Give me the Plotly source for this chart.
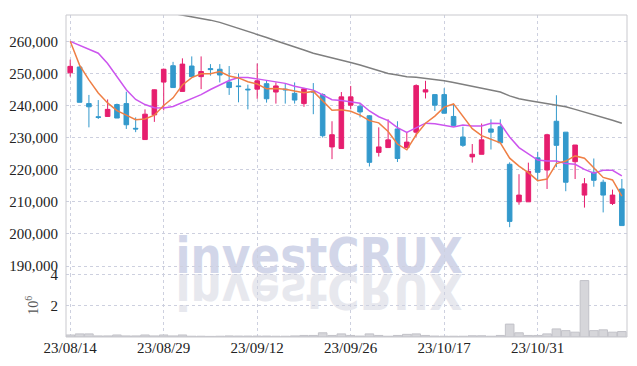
import base64
import plotly.graph_objects as go
from plotly.subplots import make_subplots

dates = ["23/08/14", "23/08/16", "23/08/17", "23/08/18", "23/08/21", "23/08/22", "23/08/23", "23/08/24",
         "23/08/25", "23/08/28", "23/08/29", "23/08/30", "23/08/31", "23/09/01", "23/09/04", "23/09/05",
         "23/09/06", "23/09/07", "23/09/08", "23/09/11", "23/09/12", "23/09/13", "23/09/14", "23/09/15",
         "23/09/18", "23/09/19", "23/09/20", "23/09/21", "23/09/22", "23/09/25", "23/09/26", "23/09/27",
         "23/10/04", "23/10/05", "23/10/06", "23/10/10", "23/10/11", "23/10/12", "23/10/13", "23/10/16",
         "23/10/17", "23/10/18", "23/10/19", "23/10/20", "23/10/23", "23/10/24", "23/10/25", "23/10/26",
         "23/10/27", "23/10/30", "23/10/31", "23/11/01", "23/11/02", "23/11/03", "23/11/06", "23/11/07",
         "23/11/08", "23/11/09", "23/11/10", "23/11/13"]

opens = [250200, 252000, 240600, 236500, 236600, 240300, 240600, 232900, 229400, 237100,
         247300, 252400, 244400, 252300, 249000, 251500, 251300, 247300, 246100, 245100,
         245100, 246800, 244200, 245100, 243800, 240600, 244400, 243400, 227100, 226600,
         240100, 239800, 236800, 225400, 226900, 232700, 226900, 231700, 244200, 243400,
         243400, 236600, 230200, 224000, 224800, 232700, 233400, 221700, 210000, 210000,
         223700, 219900, 235100, 231700, 222500, 212100, 219200, 216100, 209500, 214000]
highs = [254300, 252300, 243300, 241700, 241900, 240600, 244300, 236300, 238800, 245000,
         251500, 253600, 254700, 255300, 255300, 252900, 252900, 252300, 250000, 246500,
         253100, 247800, 247200, 246700, 247200, 245500, 247000, 243800, 235100, 244200,
         246100, 240500, 237000, 233200, 235700, 235100, 231700, 246600, 247700, 243400,
         245400, 240300, 233400, 228000, 234400, 235700, 235700, 222300, 218600, 222200,
         225600, 231200, 243200, 231700, 227700, 217400, 223500, 216900, 213800, 217100]
lows = [249000, 241000, 233200, 235800, 236600, 236100, 232700, 231700, 229400, 234900,
        238500, 245600, 244400, 249000, 245100, 249300, 247200, 243300, 241000, 238800,
        242100, 240900, 240600, 240600, 240600, 239600, 237300, 230000, 223300, 226600,
        238800, 236300, 221000, 224100, 226900, 222400, 226900, 230300, 242200, 238300,
        237600, 233500, 227100, 222200, 224800, 226300, 228400, 202100, 209100, 210000,
        216400, 214000, 220800, 213300, 217100, 208200, 214700, 206700, 209000, 202600]
closes = [252200, 241000, 239600, 236300, 238800, 236100, 234000, 232700, 237300, 244900,
          251300, 245600, 252900, 249000, 250600, 251200, 249500, 245600, 245900, 244900,
          247700, 242100, 246100, 244900, 241700, 245200, 244200, 230600, 230900, 242700,
          242700, 238000, 222300, 227100, 229300, 223500, 228600, 246200, 244900, 240100,
          237600, 233800, 227600, 224800, 229300, 231700, 228400, 203900, 212100, 219500,
          219200, 230900, 227600, 216100, 227700, 215600, 216700, 212100, 212100, 202600]

ma5 = [260000, 252600, 248000, 243900, 240800, 238400, 237000, 235600, 235800, 237000,
       240000, 242400, 246400, 248700, 249900, 249900, 250600, 249200, 248600, 247400,
       246700, 245200, 245300, 245100, 244500, 244000, 244400, 241300, 238500, 238700,
       238200, 237000, 235300, 234600, 231900, 228000, 226200, 230900, 234500, 236700,
       239500, 240500, 236800, 232800, 230600, 229400, 228400, 223600, 221100, 219100,
       216600, 217100, 221900, 222700, 224300, 223600, 220700, 217600, 216800, 211800]
ma10 = [260000, 258800, 257500, 256300, 253100, 249000, 244900, 241900, 240300, 239300,
        239200, 239700, 241000, 242300, 243400, 245000, 246500, 247800, 248700, 248700,
        248300, 247900, 247300, 246900, 246000, 245400, 244800, 243300, 241800, 241600,
        241100, 240700, 238300, 236500, 235300, 233100, 231600, 233100, 234500, 234300,
        233800, 233300, 233900, 233600, 233600, 234500, 234400, 230200, 226900, 224900,
        223000, 222700, 222700, 221900, 221700, 220100, 218900, 219800, 219800, 218100]
ma_long = [274500, 274000, 273500, 273000, 272500, 272000, 271500, 271000, 270400, 269800,
           269200, 268700, 268200, 267700, 267200, 266600, 265900, 265000, 264100, 263100,
           262200, 261200, 260200, 259300, 258300, 257300, 256300, 255600, 254800, 254300,
           253400, 252600, 251800, 250900, 250000, 249500, 249000, 248800, 248500, 248100,
           247700, 247200, 246600, 246000, 245400, 244800, 244200, 243000, 242100, 241600,
           241100, 240700, 240300, 239600, 238800, 238000, 237100, 236200, 235400, 234500]

volume_mil = [0.13, 0.20, 0.20, 0.07, 0.07, 0.13, 0.07, 0.07, 0.13, 0.07,
              0.13, 0.07, 0.13, 0.05, 0.05, 0.04, 0.05, 0.07, 0.06, 0.06,
              0.06, 0.06, 0.05, 0.05, 0.07, 0.10, 0.10, 0.27, 0.10, 0.20,
              0.10, 0.06, 0.20, 0.10, 0.05, 0.10, 0.17, 0.20, 0.10, 0.06,
              0.05, 0.05, 0.05, 0.08, 0.08, 0.05, 0.10, 0.83, 0.27, 0.10,
              0.10, 0.20, 0.52, 0.41, 0.31, 3.63, 0.41, 0.46, 0.31, 0.35]

price_ticks = [190000, 200000, 210000, 220000, 230000, 240000, 250000, 260000]
volume_ticks = [2, 4]
x_ticks = dates[::10]

RED = "#e61e6e"
BLUE = "#3399cc"
GRID = "#cdd0df"
TXT = "#222222"
FONT = "Liberation Sans Narrow"

fig = make_subplots(rows=2, cols=1, shared_xaxes=True, vertical_spacing=0)

fig.add_trace(go.Candlestick(
    x=dates, open=opens, high=highs, low=lows, close=closes,
    increasing=dict(line=dict(color=RED, width=1), fillcolor=RED),
    decreasing=dict(line=dict(color=BLUE, width=1), fillcolor=BLUE),
    whiskerwidth=0, showlegend=False, hoverinfo="skip"), row=1, col=1)

for series, color in [(ma_long, "#7f7f7f"), (ma10, "#cc55ee"), (ma5, "#ef7f45")]:
    fig.add_trace(go.Scatter(x=dates, y=series, mode="lines",
                             line=dict(color=color, width=1.5),
                             showlegend=False, hoverinfo="skip"), row=1, col=1)

fig.add_trace(go.Bar(x=dates, y=volume_mil,
                     marker=dict(color="#d6d6da", line=dict(color="#c2c2c8", width=1)),
                     showlegend=False, hoverinfo="skip"), row=2, col=1)

vol_frac = 0.197
xr = [-0.45, 59.55]
axis_common = dict(type="category", range=xr, showgrid=True, gridcolor=GRID, griddash="dot",
                   gridwidth=1, tickmode="array", tickvals=x_ticks, zeroline=False,
                   showline=False, ticks="")
fig.update_layout(
    width=637, height=366,
    margin=dict(l=63, r=10, t=9, b=29),
    paper_bgcolor="white", plot_bgcolor="white",
    bargap=0.08,
    font=dict(family=FONT, size=15, color=TXT),
    xaxis=dict(**axis_common, showticklabels=False, rangeslider=dict(visible=False)),
    xaxis2=dict(**axis_common, ticktext=x_ticks, tickfont=dict(family=FONT, size=15, color=TXT),
                rangeslider=dict(visible=False)),
    yaxis=dict(domain=[vol_frac, 1], range=[187650, 268200], tickvals=price_ticks,
               tickformat=",d", showgrid=True, gridcolor=GRID, griddash="dot", zeroline=False,
               tickfont=dict(family=FONT, size=15, color=TXT), ticks="outside", ticklen=4,
               tickcolor="rgba(0,0,0,0)"),
    yaxis2=dict(domain=[0, vol_frac], range=[0, 4.08], tickvals=volume_ticks,
                showgrid=True, gridcolor=GRID, griddash="dot", zeroline=False,
                tickfont=dict(family=FONT, size=15, color=TXT), ticks="outside", ticklen=4,
                tickcolor="rgba(0,0,0,0)",
                title=dict(text="10<sup>6</sup>", font=dict(family=FONT, size=14, color="#555555"),
                           standoff=8)),
)

fig.add_shape(type="rect", xref="paper", yref="paper", x0=0, x1=1, y0=0, y1=1,
              line=dict(color="#c9c9ce", width=1), layer="above")

svg = ('<svg xmlns="http://www.w3.org/2000/svg" width="295" height="95" viewBox="0 0 295 95">'
       '<text x="3" y="47" font-family="DejaVu Sans, sans-serif" font-weight="bold" '
       'font-size="50" textLength="289" lengthAdjust="spacingAndGlyphs" fill="#d2d6e9">investCRUX</text>'
       '<g transform="translate(0,95) scale(1,-1)">'
       '<text x="3" y="47" font-family="DejaVu Sans, sans-serif" font-weight="bold" '
       'font-size="50" textLength="289" lengthAdjust="spacingAndGlyphs" fill="#e7e8ee">investCRUX</text>'
       '</g></svg>')
src = "data:image/svg+xml;base64," + base64.b64encode(svg.encode()).decode()
fig.add_layout_image(dict(source=src, xref="paper", yref="paper",
                          x=(170 - 63) / 564, y=(337 - 225) / 328,
                          sizex=295 / 564, sizey=95 / 328,
                          xanchor="left", yanchor="top", sizing="stretch",
                          layer="below", opacity=1))

fig.write_html("out.html")
